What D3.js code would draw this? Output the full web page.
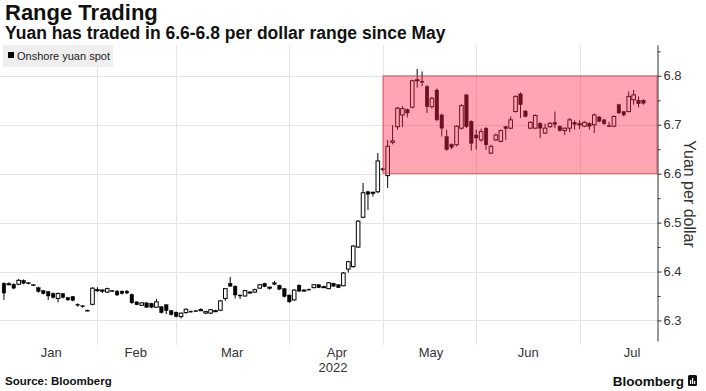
<!DOCTYPE html>
<html>
<head>
<meta charset="utf-8">
<script src="https://cdn.jsdelivr.net/npm/d3@7"></script>
<style>
  body { margin: 0; background: #fff; }
  svg { display: block; font-family: "Liberation Sans", Arial, sans-serif; }
</style>
</head>
<body>
<div id="chart"></div>
<script>
// trading days per month in 2022 (Jul is partial)
const months = ["Jan", "Feb", "Mar", "Apr", "May", "Jun", "Jul"];
const monthDays = [20, 16, 23, 19, 19, 21, 13];
// label position of each month, in trading-day index
const monthLabelAt = [9.6, 26.8, 46.4, 67.7, 86.8, 106.6, 127.7];
const yTicks = [6.3, 6.4, 6.5, 6.6, 6.7, 6.8];
const minorTicks = [6.35, 6.45, 6.55, 6.65, 6.75, 6.85];
const rangeBand = [6.6, 6.8];

// onshore yuan spot, daily OHLC
const open = [
  6.376, 6.374, 6.374, 6.374, 6.382, 6.377, 6.373, 6.367, 6.361, 6.359, 6.355, 6.345, 6.355, 6.347, 6.349, 6.333, 6.330, 6.321, 6.333, 6.362,
  6.360, 6.358, 6.361, 6.360, 6.360, 6.360, 6.353, 6.338, 6.331, 6.336, 6.335, 6.327, 6.328, 6.332, 6.320, 6.317,
  6.308, 6.316, 6.319, 6.320, 6.321, 6.315, 6.315, 6.319, 6.321, 6.345, 6.376, 6.370, 6.352, 6.350, 6.358, 6.358, 6.366, 6.376, 6.366, 6.377, 6.372, 6.365, 6.352,
  6.342, 6.372, 6.362, 6.364, 6.367, 6.373, 6.369, 6.365, 6.376, 6.373, 6.371, 6.405, 6.410, 6.450, 6.511, 6.563, 6.561, 6.563, 6.610,
  6.596, 6.664, 6.696, 6.720, 6.731, 6.736, 6.790, 6.789, 6.778, 6.737, 6.771, 6.720, 6.676, 6.660, 6.659, 6.693, 6.761, 6.707, 6.679,
  6.669, 6.693, 6.642, 6.669, 6.666, 6.696, 6.693, 6.727, 6.763, 6.728, 6.693, 6.693, 6.703, 6.683, 6.696, 6.705, 6.697, 6.688, 6.693, 6.705, 6.702,
  6.697, 6.703, 6.700, 6.716, 6.710, 6.698, 6.697, 6.741, 6.727, 6.727, 6.751, 6.750, 6.750
];
const high = [
  6.378, 6.378, 6.376, 6.385, 6.384, 6.378, 6.374, 6.369, 6.362, 6.360, 6.357, 6.357, 6.356, 6.348, 6.350, 6.335, 6.331, 6.322, 6.368, 6.368,
  6.364, 6.367, 6.362, 6.362, 6.361, 6.362, 6.355, 6.339, 6.337, 6.337, 6.336, 6.344, 6.329, 6.333, 6.321, 6.318,
  6.316, 6.324, 6.320, 6.321, 6.325, 6.319, 6.323, 6.322, 6.342, 6.366, 6.389, 6.372, 6.353, 6.362, 6.360, 6.365, 6.374, 6.377, 6.369, 6.381, 6.373, 6.366, 6.353,
  6.364, 6.374, 6.364, 6.365, 6.374, 6.374, 6.371, 6.378, 6.377, 6.374, 6.399, 6.422, 6.454, 6.505, 6.581, 6.565, 6.563, 6.642, 6.612,
  6.669, 6.699, 6.736, 6.738, 6.733, 6.792, 6.814, 6.809, 6.781, 6.757, 6.774, 6.723, 6.690, 6.662, 6.699, 6.742, 6.763, 6.709, 6.690,
  6.692, 6.695, 6.659, 6.682, 6.690, 6.698, 6.717, 6.760, 6.766, 6.730, 6.707, 6.721, 6.705, 6.702, 6.705, 6.727, 6.699, 6.694, 6.714, 6.709, 6.709,
  6.707, 6.705, 6.723, 6.718, 6.712, 6.706, 6.719, 6.743, 6.728, 6.768, 6.771, 6.758, 6.752
];
const low = [
  6.342, 6.372, 6.364, 6.372, 6.374, 6.374, 6.371, 6.357, 6.353, 6.342, 6.345, 6.337, 6.345, 6.340, 6.339, 6.328, 6.326, 6.319, 6.331, 6.358,
  6.356, 6.356, 6.359, 6.350, 6.353, 6.354, 6.334, 6.331, 6.330, 6.326, 6.325, 6.326, 6.314, 6.313, 6.310, 6.306,
  6.304, 6.314, 6.317, 6.318, 6.319, 6.313, 6.313, 6.317, 6.319, 6.340, 6.369, 6.345, 6.344, 6.349, 6.355, 6.357, 6.365, 6.368, 6.363, 6.372, 6.362, 6.347, 6.336,
  6.340, 6.358, 6.359, 6.362, 6.366, 6.366, 6.367, 6.364, 6.369, 6.366, 6.370, 6.398, 6.408, 6.448, 6.509, 6.526, 6.553, 6.560, 6.605,
  6.571, 6.660, 6.690, 6.695, 6.715, 6.733, 6.776, 6.779, 6.724, 6.733, 6.707, 6.676, 6.647, 6.650, 6.656, 6.690, 6.693, 6.647, 6.649,
  6.665, 6.649, 6.640, 6.667, 6.664, 6.669, 6.691, 6.725, 6.714, 6.715, 6.691, 6.691, 6.673, 6.681, 6.694, 6.693, 6.686, 6.679, 6.685, 6.690, 6.691,
  6.695, 6.690, 6.683, 6.705, 6.700, 6.696, 6.695, 6.722, 6.717, 6.725, 6.741, 6.736, 6.741
];
const close = [
  6.356, 6.375, 6.366, 6.382, 6.376, 6.376, 6.372, 6.359, 6.355, 6.350, 6.347, 6.355, 6.347, 6.342, 6.341, 6.331, 6.328, 6.320, 6.366, 6.363,
  6.362, 6.365, 6.360, 6.352, 6.355, 6.356, 6.336, 6.332, 6.336, 6.327, 6.327, 6.338, 6.316, 6.320, 6.312, 6.308,
  6.315, 6.323, 6.318, 6.319, 6.322, 6.318, 6.322, 6.320, 6.340, 6.365, 6.370, 6.352, 6.350, 6.361, 6.358, 6.363, 6.373, 6.369, 6.368, 6.374, 6.364, 6.349, 6.338,
  6.362, 6.360, 6.362, 6.363, 6.373, 6.367, 6.369, 6.377, 6.370, 6.367, 6.397, 6.420, 6.452, 6.503, 6.561, 6.558, 6.562, 6.626, 6.609,
  6.656, 6.667, 6.734, 6.733, 6.724, 6.790, 6.792, 6.788, 6.737, 6.754, 6.710, 6.693, 6.649, 6.654, 6.697, 6.739, 6.696, 6.662, 6.673,
  6.686, 6.659, 6.656, 6.679, 6.688, 6.692, 6.710, 6.758, 6.741, 6.717, 6.705, 6.719, 6.693, 6.693, 6.703, 6.701, 6.688, 6.693, 6.710, 6.701, 6.702,
  6.705, 6.697, 6.720, 6.707, 6.702, 6.697, 6.717, 6.724, 6.720, 6.758, 6.761, 6.743, 6.744
];

const width = 706, height = 391;
const axisX = 657;

const svg = d3.select("#chart").append("svg")
    .attr("width", width)
    .attr("height", height);

// scales
const nDays = d3.sum(monthDays);
const x = d3.scaleBand()
    .domain(d3.range(nDays))
    .range([0.8, 646.6])
    .padding(0.27);
const step = x.step();
const cx = (i) => x(0) - (x.step() - x.bandwidth()) / 2 + step * (i + 0.5);
const y = d3.scaleLinear()
    .domain([6.258, 6.863])
    .range([341, 45]);

const ends = Array.from(d3.cumsum(monthDays));

// grid
const grid = svg.append("g");
grid.selectAll(".hgrid")
    .data(yTicks)
    .join("line")
    .attr("x1", 0).attr("x2", axisX)
    .attr("y1", d => Math.round(y(d)) + 0.5)
    .attr("y2", d => Math.round(y(d)) + 0.5)
    .attr("stroke", "#e4e4e4");
grid.selectAll(".vgrid")
    .data(ends.slice(0, -1))
    .join("line")
    .attr("x1", d => Math.round(cx(d - 1)) + 0.5)
    .attr("x2", d => Math.round(cx(d - 1)) + 0.5)
    .attr("y1", 45).attr("y2", 345)
    .attr("stroke", "#e4e4e4");

// legend
const legend = svg.append("g");
legend.append("rect")
    .attr("x", 3).attr("y", 45)
    .attr("width", 110).attr("height", 22)
    .attr("fill", "#eeeeee");
legend.append("rect")
    .attr("x", 8).attr("y", 52)
    .attr("width", 6).attr("height", 6)
    .attr("fill", "#000");
legend.append("text")
    .attr("x", 17).attr("y", 60)
    .attr("font-size", 11)
    .attr("fill", "#222")
    .text("Onshore yuan spot");

// candles
const bw = 3.6;
const candles = svg.append("g")
    .selectAll("g")
    .data(d3.range(nDays))
    .join("g");

candles.append("line")
    .attr("x1", i => cx(i)).attr("x2", i => cx(i))
    .attr("y1", i => y(high[i]))
    .attr("y2", i => y(low[i]))
    .attr("stroke", "#000")
    .attr("stroke-width", 1);

candles.append("rect")
    .attr("x", i => cx(i) - bw / 2)
    .attr("width", bw)
    .attr("y", i => y(Math.max(open[i], close[i])))
    .attr("height", i => Math.max(1, Math.abs(y(open[i]) - y(close[i]))))
    .attr("fill", i => close[i] >= open[i] ? "#fff" : "#000")
    .attr("stroke", "#000")
    .attr("stroke-width", i => close[i] >= open[i] ? 1 : 0.4);

// range box since May
const boxLeft = Math.round(cx(ends[3] - 1));
svg.append("rect")
    .attr("x", boxLeft)
    .attr("y", y(rangeBand[1]))
    .attr("width", axisX - boxLeft)
    .attr("height", y(rangeBand[0]) - y(rangeBand[1]))
    .attr("fill", "rgb(255,40,75)")
    .attr("fill-opacity", 0.42)
    .attr("stroke", "rgb(215,60,80)")
    .attr("stroke-opacity", 0.8)
    .attr("stroke-width", 1);

// right axis
const axis = svg.append("g")
    .attr("transform", `translate(${axisX + 0.5},0)`)
    .call(d3.axisRight(y)
        .tickValues(yTicks)
        .tickSize(4)
        .tickSizeOuter(0)
        .tickPadding(2)
        .tickFormat(d3.format(".1f")));
axis.select(".domain").attr("stroke", "#333");
axis.selectAll(".tick line").attr("stroke", "#333");
axis.selectAll(".tick text")
    .attr("font-family", "Liberation Sans, Arial, sans-serif")
    .attr("font-size", 13)
    .attr("fill", "#333");

svg.append("g")
    .attr("transform", `translate(${axisX + 0.5},0)`)
    .call(d3.axisRight(y).tickValues(minorTicks).tickSize(3).tickFormat(""))
    .call(g => g.select(".domain").remove())
    .selectAll(".tick line").attr("stroke", "#333");

svg.append("text")
    .attr("transform", "translate(684,194) rotate(90)")
    .attr("text-anchor", "middle")
    .attr("font-size", 16)
    .attr("fill", "#333")
    .text("Yuan per dollar");

// month labels
svg.append("g")
    .selectAll("text")
    .data(months)
    .join("text")
    .attr("x", (d, k) => cx(monthLabelAt[k]))
    .attr("y", 357)
    .attr("text-anchor", "middle")
    .attr("font-size", 13)
    .attr("fill", "#333")
    .text(d => d);
svg.append("text")
    .attr("x", cx(monthLabelAt[3]) - 4)
    .attr("y", 372)
    .attr("text-anchor", "middle")
    .attr("font-size", 13)
    .attr("fill", "#333")
    .text("2022");

// titles
svg.append("text")
    .attr("x", 5).attr("y", 19.5)
    .attr("font-size", 22)
    .attr("font-weight", "bold")
    .attr("fill", "#111")
    .text("Range Trading");
svg.append("text")
    .attr("x", 5).attr("y", 38.5)
    .attr("font-size", 17.5)
    .attr("font-weight", "bold")
    .attr("fill", "#111")
    .text("Yuan has traded in 6.6-6.8 per dollar range since May");

// footer
svg.append("text")
    .attr("x", 5).attr("y", 385)
    .attr("font-size", 11.5)
    .attr("font-weight", "bold")
    .attr("fill", "#111")
    .text("Source: Bloomberg");
svg.append("text")
    .attr("x", 684).attr("y", 386)
    .attr("text-anchor", "end")
    .attr("font-size", 13.5)
    .attr("font-weight", "bold")
    .attr("fill", "#111")
    .text("Bloomberg");

const logo = svg.append("g").attr("transform", "translate(688,375)");
logo.append("rect")
    .attr("width", 9).attr("height", 11).attr("rx", 1.5)
    .attr("fill", "#111");
logo.selectAll(".bar")
    .data([4, 6, 3])
    .join("rect")
    .attr("x", (d, k) => 2 + k * 2)
    .attr("y", d => 9 - d)
    .attr("width", 1.2)
    .attr("height", d => d)
    .attr("fill", "#fff");
</script>
</body>
</html>
